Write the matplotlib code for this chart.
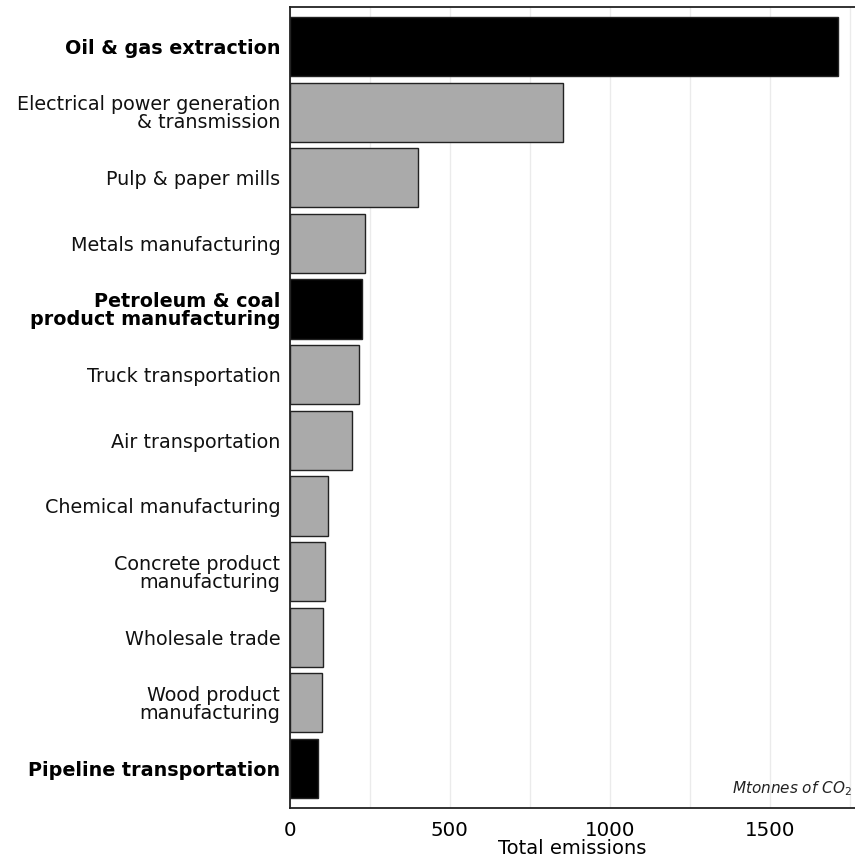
"""Horizontal bar chart of total emissions by industry."""

import matplotlib
matplotlib.use("Agg")
import matplotlib.pyplot as plt
from matplotlib.ticker import MultipleLocator

industries = [
    "Oil & gas extraction",
    "Electrical power generation\n& transmission",
    "Pulp & paper mills",
    "Metals manufacturing",
    "Petroleum & coal\nproduct manufacturing",
    "Truck transportation",
    "Air transportation",
    "Chemical manufacturing",
    "Concrete product\nmanufacturing",
    "Wholesale trade",
    "Wood product\nmanufacturing",
    "Pipeline transportation",
]
emissions = [1714, 854, 401, 236, 224, 215, 193, 118, 109, 103, 100, 87]
highlighted = [True, False, False, False, True, False, False, False, False, False, False, True]


def plot_emissions(save_path="out.png"):
    fig = plt.figure(figsize=(8.55, 8.6), dpi=100)
    ax = fig.add_axes([290 / 855, 52 / 860, 1 - 290 / 855, 801 / 860])

    n = len(industries)
    ypos = list(range(n))[::-1]
    colors = ["black" if h else "#aaaaaa" for h in highlighted]
    ax.barh(ypos, emissions, height=0.9, color=colors, edgecolor="#222222",
            linewidth=1.0, zorder=3)

    ax.set_ylim(-0.6, n - 0.4)
    ax.set_xlim(0, 1767)
    ax.xaxis.set_major_locator(MultipleLocator(500))
    ax.xaxis.set_minor_locator(MultipleLocator(250))
    ax.grid(axis="x", which="both", color="#ebebeb", linewidth=1.0, zorder=0)
    ax.set_axisbelow(True)

    ax.set_yticks(ypos)
    ax.set_yticklabels(industries, fontsize=13.8, linespacing=0.93, color="#111111")
    for lbl, h in zip(ax.get_yticklabels(), highlighted):
        if h:
            lbl.set_fontweight("bold")
            lbl.set_color("black")
    ax.tick_params(axis="y", length=0, pad=7)
    ax.tick_params(axis="x", which="both", length=0, pad=9, labelsize=14.3)

    for side in ["left", "bottom", "top"]:
        ax.spines[side].set_color("#222222")
        ax.spines[side].set_linewidth(1.3)
    ax.spines["right"].set_visible(False)

    ax.set_xlabel("Total emissions", fontsize=14, labelpad=0)
    ax.text(0.995, 0.012, "Mtonnes of $CO_2$", transform=ax.transAxes,
            ha="right", va="bottom", fontsize=11, style="italic", color="#222222")

    fig.savefig(save_path, dpi=100)


if __name__ == "__main__":
    plot_emissions()
